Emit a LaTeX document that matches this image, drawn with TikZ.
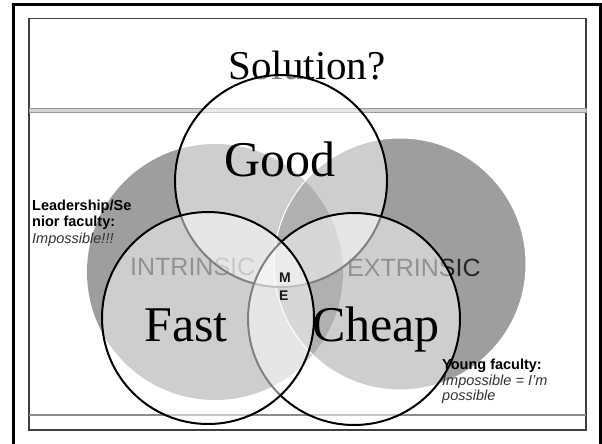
\documentclass[tikz,border=0pt]{standalone}
\usepackage{fontspec}
\setmainfont{Liberation Serif}
\newfontfamily\sansf{Liberation Sans}
\begin{document}
\begin{tikzpicture}[x=1pt,y=-1pt,
  vennfill/.style={fill=white,fill opacity=0.5},
  vennline/.style={draw=black,line width=2pt},
  bgcirc/.style={fill=black,fill opacity=0.38},
  bigword/.style={inner sep=0pt,anchor=base,font=\fontsize{50}{56}\selectfont},
  ghost/.style={inner sep=0pt,anchor=base west,text=black!85,font=\sansf\fontsize{25}{30}\selectfont},
  boldnote/.style={inner sep=0pt,anchor=base west,font=\sansf\bfseries\fontsize{14.5}{17}\selectfont},
  itnote/.style={inner sep=0pt,anchor=base west,text=black!80,font=\sansf\itshape\fontsize{14.5}{17}\selectfont},
  mefont/.style={inner sep=0pt,anchor=base west,text=black!90,font=\sansf\bfseries\fontsize{14}{16}\selectfont},
]
\useasboundingbox (0,0) rectangle (602,444);
\fill[white] (0,0) rectangle (602,444);
% frames
\draw[line width=2.6pt] (13.5,4.3) rectangle (600.5,470);
\draw[line width=1.1pt,black!75] (29,18.3) rectangle (586,430);
\filldraw[fill=black!18,draw=black!40,line width=0.6pt] (29,108.5) rectangle (586,112);
\draw[black!45,line width=1.6pt] (29,415) -- (586,415);
% title
\node[inner sep=0pt,anchor=base,font=\fontsize{41}{46}\selectfont] (title) at (307,79) {Solution?};
% background circles
\coordinate (cin) at (215,272);
\coordinate (cex) at (400,264);
\fill[bgcirc] (cin) circle[radius=128pt];
\fill[bgcirc] (cex) circle[radius=126pt];
\draw[white,line width=1pt] (cex) circle[radius=126pt];
\node[ghost] (intr) at (130,275) {INTRINSIC};
\node[ghost] (extr) at (347,276) {EXTRINSIC};
% venn circles
\coordinate (cgood) at (281,181);
\coordinate (ccheap) at (354,319);
\coordinate (cfast) at (208,318);
\fill[vennfill] (cgood) circle[radius=106pt];
\draw[vennline] (cgood) circle[radius=106pt];
\fill[vennfill] (ccheap) circle[radius=106pt];
\draw[vennline] (ccheap) circle[radius=106pt];
\fill[vennfill] (cfast) circle[radius=106pt];
\draw[vennline] (cfast) circle[radius=106pt];
% labels
\node[bigword] (good) at (280,176) {Good};
\node[bigword] (fast) at (186,341) {Fast};
\node[bigword] (cheap) at (376,341) {Cheap};
\node[mefont] (m) at (279,282) {M};
\node[mefont] (e) at (279,300) {E};
\node[boldnote] (l1) at (32,210) {Leadership/Se};
\node[boldnote] (l2) at (32,226.5) {nior faculty:};
\node[itnote] (l3) at (32,243) {Impossible!!!};
\node[boldnote] (r1) at (442,369) {Young faculty:};
\node[itnote] (r2) at (442,385) {Impossible = I’m};
\node[itnote] (r3) at (442,400) {possible};
\end{tikzpicture}
\end{document}
